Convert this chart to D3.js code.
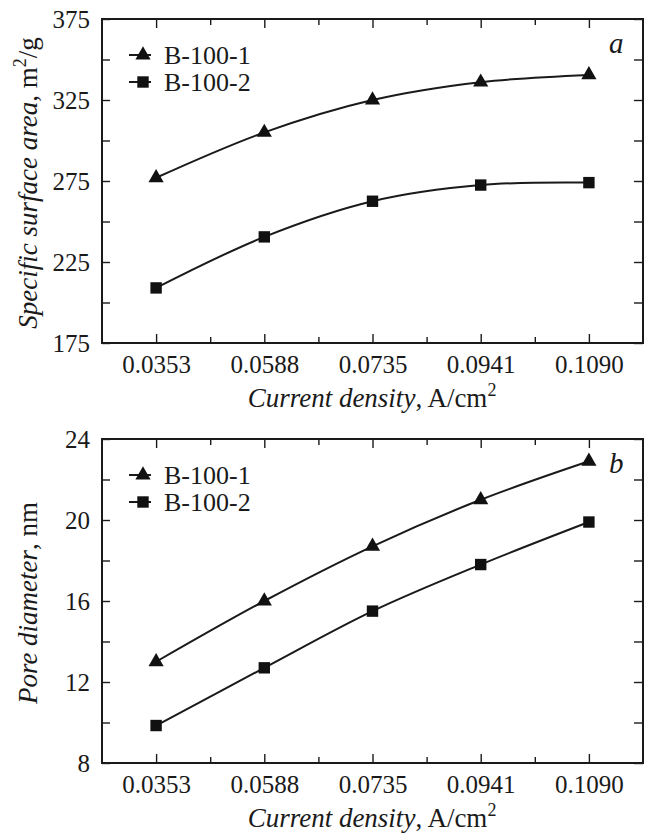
<!DOCTYPE html>
<html>
<head>
<meta charset="utf-8">
<script src="https://cdn.jsdelivr.net/npm/d3@7"></script>
<style>
  body { margin: 0; background: #fff; }
  svg text { font-family: "Liberation Serif", "Times New Roman", serif !important; fill: #1a1a1a; }
  .tick line { stroke: #1a1a1a; stroke-width: 1.4; }
  .tick text { font-size: 25px; }
</style>
</head>
<body>
<svg width="645" height="834"></svg>
<script>
var densities = ["0.0353", "0.0588", "0.0735", "0.0941", "0.1090"];
var seriesNames = ["B-100-1", "B-100-2"];

// specific surface area, m2/g
var areaB1 = [277, 305, 325, 336, 340.5];
var areaB2 = [209, 240.5, 262.5, 272.5, 274];

// pore diameter, nm
var poreB1 = [13.0, 16.0, 18.7, 21.0, 22.9];
var poreB2 = [9.85, 12.7, 15.5, 17.8, 19.9];

var areaTicks = [175, 200, 225, 250, 275, 300, 325, 350, 375];
var poreTicks = [8, 10, 12, 14, 16, 18, 20, 22, 24];

var svg = d3.select("svg");
var left = 102, right = 643;

var triangle = d3.symbol(d3.symbolTriangle, 100)();
var square = d3.symbol(d3.symbolSquare, 130)();

function panel(top, bottom, yDomain, yTicks, labelStep, s1, s2, yTitle, yUnit, letter) {
  var g = svg.append("g");
  var x = d3.scalePoint().domain(densities).range([left, right]).padding(0.5);
  var xMinor = d3.scaleLinear().domain([-0.5, densities.length - 0.5]).range([left, right]);
  var y = d3.scaleLinear().domain(yDomain).range([bottom, top]);

  // bottom axis, ticks pointing inward
  g.append("g")
    .attr("transform", "translate(0," + bottom + ")")
    .call(d3.axisBottom(x).tickSize(-9).tickPadding(12))
    .call(function (a) { a.select(".domain").remove(); });
  g.append("g")
    .attr("transform", "translate(0," + bottom + ")")
    .call(d3.axisBottom(xMinor).tickValues([0.5, 1.5, 2.5, 3.5]).tickSize(-6).tickFormat(""))
    .call(function (a) { a.select(".domain").remove(); });
  // top axis
  g.append("g")
    .attr("transform", "translate(0," + top + ")")
    .call(d3.axisTop(x).tickSize(-9).tickFormat(""))
    .call(function (a) { a.select(".domain").remove(); });
  g.append("g")
    .attr("transform", "translate(0," + top + ")")
    .call(d3.axisTop(xMinor).tickValues([0.5, 1.5, 2.5, 3.5]).tickSize(-6).tickFormat(""))
    .call(function (a) { a.select(".domain").remove(); });

  // left / right axes
  g.append("g")
    .attr("transform", "translate(" + left + ",0)")
    .call(d3.axisLeft(y).tickValues(yTicks).tickSize(-8).tickPadding(12)
      .tickFormat(function (d) { return (d - yDomain[0]) % labelStep === 0 ? d : ""; }))
    .call(function (a) { a.select(".domain").remove(); });
  g.append("g")
    .attr("transform", "translate(" + right + ",0)")
    .call(d3.axisRight(y).tickValues(yTicks).tickSize(-9).tickFormat(""))
    .call(function (a) { a.select(".domain").remove(); });

  g.append("rect")
    .attr("x", left).attr("y", top)
    .attr("width", right - left).attr("height", bottom - top)
    .attr("fill", "none").attr("stroke", "#1a1a1a").attr("stroke-width", 2);

  var line = d3.line()
    .x(function (d, i) { return x(densities[i]); })
    .y(function (d) { return y(d); })
    .curve(d3.curveCatmullRom);

  [s1, s2].forEach(function (vals, k) {
    g.append("path")
      .attr("d", line(vals))
      .attr("fill", "none")
      .attr("stroke", "#1a1a1a")
      .attr("stroke-width", 2);
    g.selectAll(".m" + k)
      .data(vals)
      .enter()
      .append("path")
      .attr("transform", function (d, i) { return "translate(" + x(densities[i]) + "," + y(d) + ")"; })
      .attr("d", k === 0 ? triangle : square)
      .attr("fill", "#111");
  });

  // legend
  seriesNames.forEach(function (name, k) {
    var ly = top + 36 + k * 27;
    g.append("line")
      .attr("x1", 129).attr("x2", 151)
      .attr("y1", ly).attr("y2", ly)
      .attr("stroke", "#1a1a1a").attr("stroke-width", 2);
    g.append("path")
      .attr("transform", "translate(143," + ly + ")")
      .attr("d", k === 0 ? triangle : square)
      .attr("fill", "#111");
    g.append("text")
      .attr("x", 164).attr("y", ly + 9)
      .style("font-size", "26px")
      .text(name);
  });

  // panel letter
  g.append("text")
    .attr("x", 609).attr("y", top + 34)
    .style("font-size", "29px").style("font-style", "italic")
    .text(letter);

  // y title
  var yt = g.append("text")
    .attr("transform", "translate(37," + ((top + bottom) / 2 + 2) + ") rotate(-90)")
    .style("text-anchor", "middle")
    .style("font-size", "27px");
  yt.append("tspan").style("font-style", "italic").text(yTitle);
  yt.append("tspan").text(", " + yUnit[0]);
  if (yUnit[1]) {
    yt.append("tspan").attr("dy", -11).style("font-size", "18px").text(yUnit[1]);
    yt.append("tspan").attr("dy", 11).text(yUnit[2]);
  }

  // x title
  var xt = g.append("text")
    .attr("x", 372).attr("y", bottom + 64)
    .style("text-anchor", "middle")
    .style("font-size", "27px");
  xt.append("tspan").style("font-style", "italic").text("Current density");
  xt.append("tspan").text(", A/cm");
  xt.append("tspan").attr("dy", -11).style("font-size", "18px").text("2");
}

panel(19, 343, [175, 375], areaTicks, 50, areaB1, areaB2,
  "Specific surface area", ["m", "2", "/g"], "a");
panel(439, 763, [8, 24], poreTicks, 4, poreB1, poreB2,
  "Pore diameter", ["nm"], "b");
</script>
</body>
</html>
